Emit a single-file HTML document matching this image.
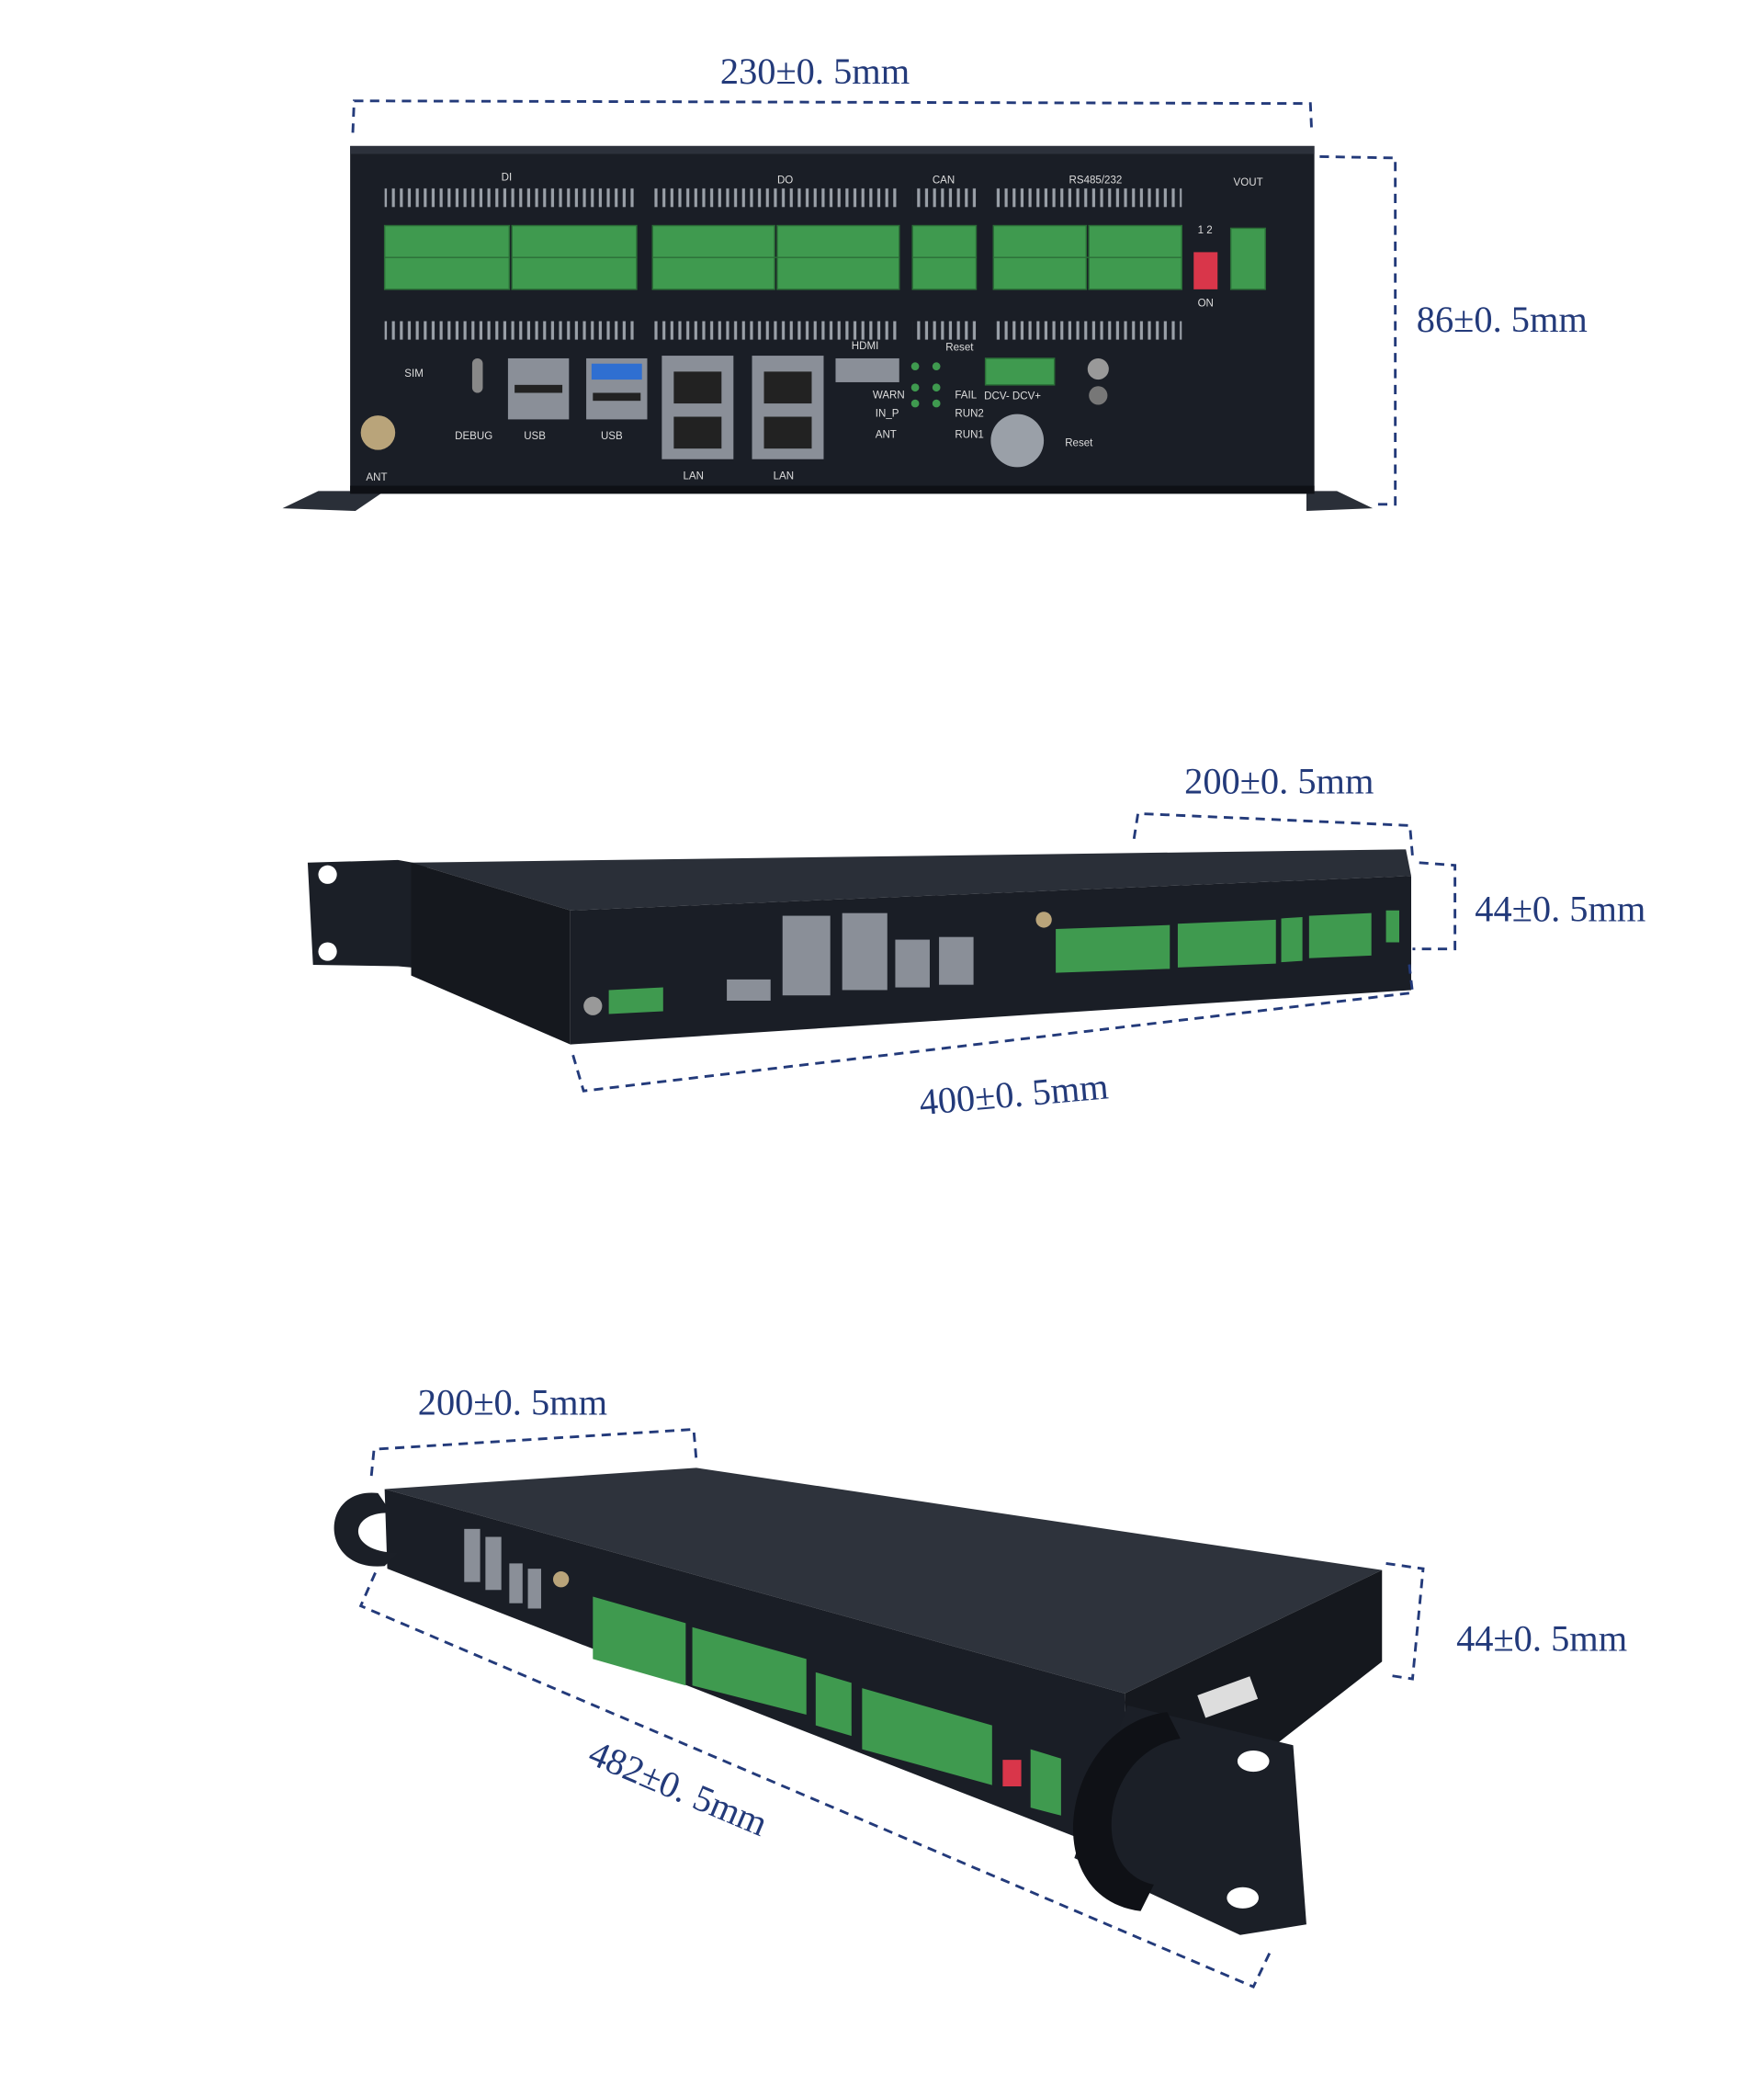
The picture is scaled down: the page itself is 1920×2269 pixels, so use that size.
<!DOCTYPE html>
<html><head><meta charset="utf-8"><style>
html,body{margin:0;padding:0;background:#fff;}
svg{display:block;}
.dim{font-family:"Liberation Serif","Noto Serif CJK SC",serif;fill:#233a7a;font-size:28px;}
.d{stroke:#233a7a;stroke-width:2;stroke-dasharray:7 5;fill:none;}
.lbl{font-family:"Liberation Sans",sans-serif;fill:#ddd;font-size:8px;}
</style></head><body>
<svg width="1920" height="2269" viewBox="0 0 1330 1571" preserveAspectRatio="none" xmlns="http://www.w3.org/2000/svg">
<defs>
<pattern id="pins" width="6" height="20" patternUnits="userSpaceOnUse"><rect x="1.5" y="2" width="2.2" height="14" fill="#9aa0a8"/></pattern>
</defs>
<rect width="1330" height="1571" fill="#fff"/>
<!-- TOP DEVICE -->
<polygon points="213,383 240,370 290,370 268,385" fill="#2a2f38"/>
<polygon points="1035,383 1008,370 985,370 985,385" fill="#2a2f38"/>
<rect x="264" y="110" width="727" height="262" fill="#1a1e26"/>
<rect x="264" y="110" width="727" height="6" fill="#2c313b"/>
<rect x="264" y="366" width="727" height="6" fill="#0e1015"/>
<g fill="url(#pins)">
<rect x="290" y="140" width="190" height="18"/><rect x="492" y="140" width="186" height="18"/>
<rect x="688" y="140" width="48" height="18"/><rect x="749" y="140" width="142" height="18"/>
<rect x="290" y="238" width="190" height="18"/><rect x="492" y="238" width="186" height="18"/>
<rect x="688" y="238" width="48" height="18"/><rect x="749" y="238" width="142" height="18"/>
</g>
<g fill="#3f9a4f" stroke="#2b6e37" stroke-width="1">
<rect x="290" y="170" width="94" height="48"/><rect x="386" y="170" width="94" height="48"/>
<rect x="492" y="170" width="92" height="48"/><rect x="586" y="170" width="92" height="48"/>
<rect x="688" y="170" width="48" height="48"/>
<rect x="749" y="170" width="70" height="48"/><rect x="821" y="170" width="70" height="48"/>
<rect x="928" y="172" width="26" height="46"/>
<rect x="743" y="270" width="52" height="20"/>
</g>
<g stroke="#2b6e37" stroke-width="1">
<line x1="290" y1="194" x2="384" y2="194"/><line x1="386" y1="194" x2="480" y2="194"/>
<line x1="492" y1="194" x2="678" y2="194"/><line x1="688" y1="194" x2="736" y2="194"/>
<line x1="749" y1="194" x2="891" y2="194"/>
</g>
<rect x="900" y="190" width="18" height="28" fill="#d9364a"/>
<g class="lbl">
<text x="378" y="136">DI</text><text x="586" y="138">DO</text><text x="703" y="138">CAN</text>
<text x="806" y="138">RS485/232</text><text x="930" y="140">VOUT</text>
<text x="305" y="284">SIM</text><text x="343" y="331">DEBUG</text><text x="395" y="331">USB</text><text x="453" y="331">USB</text>
<text x="515" y="361">LAN</text><text x="583" y="361">LAN</text><text x="642" y="263">HDMI</text>
<text x="713" y="264">Reset</text><text x="742" y="301">DCV- DCV+</text><text x="803" y="336">Reset</text>
<text x="276" y="362">ANT</text><text x="720" y="300">FAIL</text><text x="658" y="300">WARN</text>
<text x="660" y="314">IN_P</text><text x="660" y="330">ANT</text><text x="720" y="314">RUN2</text><text x="720" y="330">RUN1</text>
<text x="903" y="176">1 2</text><text x="903" y="231">ON</text>
</g>
<g fill="#3f9a4f"><circle cx="690" cy="292" r="3"/><circle cx="706" cy="292" r="3"/><circle cx="690" cy="304" r="3"/><circle cx="706" cy="304" r="3"/><circle cx="690" cy="276" r="3"/><circle cx="706" cy="276" r="3"/></g>
<g fill="#8a8f98">
<rect x="383" y="270" width="46" height="46"/><rect x="442" y="270" width="46" height="46"/>
<rect x="499" y="268" width="54" height="78"/><rect x="567" y="268" width="54" height="78"/>
<rect x="630" y="270" width="48" height="18"/>
</g>
<rect x="446" y="274" width="38" height="12" fill="#2f6fd1"/>
<g fill="#222">
<rect x="508" y="280" width="36" height="24"/><rect x="508" y="314" width="36" height="24"/>
<rect x="576" y="280" width="36" height="24"/><rect x="576" y="314" width="36" height="24"/>
<rect x="388" y="290" width="36" height="6"/><rect x="447" y="296" width="36" height="6"/>
</g>
<circle cx="285" cy="326" r="13" fill="#b9a47a"/>
<circle cx="767" cy="332" r="20" fill="#9aa0a8"/>
<circle cx="828" cy="278" r="8" fill="#999"/><circle cx="828" cy="298" r="7" fill="#777"/>
<rect x="356" y="270" width="8" height="26" rx="4" fill="#888"/>
<!-- top dims -->
<text class="dim" x="543" y="63">230±0. 5mm</text>
<polyline class="d" points="266,100 267,76 988,78 989,100"/>
<polyline class="d" points="995,118 1052,119 1052,380 1035,380"/>
<text class="dim" x="1068" y="250">86±0. 5mm</text>

<!-- MIDDLE DEVICE -->
<polygon points="232,650 300,648 322,652 322,730 300,728 236,727" fill="#1b1f27"/>
<circle cx="247" cy="659" r="7" fill="#fff"/><circle cx="247" cy="717" r="7" fill="#fff"/>
<polygon points="310,650 1060,640 1064,660 430,686" fill="#2a2f38"/>
<polygon points="310,650 430,686 430,787 310,735" fill="#15181e"/>
<polygon points="430,686 1064,660 1064,746 430,787" fill="#1a1e26"/>
<g fill="#3f9a4f">
<polygon points="796,700 882,697 882,730 796,733"/>
<polygon points="888,696 962,693 962,726 888,729"/>
<polygon points="966,692 982,691 982,724 966,725"/>
<polygon points="987,690 1034,688 1034,720 987,722"/>
<polygon points="1045,686 1055,686 1055,710 1045,710"/>
<polygon points="459,746 500,744 500,762 459,764"/>
</g>
<g fill="#8a8f98">
<rect x="590" y="690" width="36" height="60"/><rect x="635" y="688" width="34" height="58"/>
<rect x="675" y="708" width="26" height="36"/><rect x="708" y="706" width="26" height="36"/>
<rect x="548" y="738" width="33" height="16"/>
</g>
<circle cx="787" cy="693" r="6" fill="#b9a47a"/><circle cx="447" cy="758" r="7" fill="#999"/>
<text class="dim" x="893" y="598">200±0. 5mm</text>
<polyline class="d" points="855,632 858,613 1063,622 1065,645"/>
<polyline class="d" points="1070,650 1097,652 1097,715 1065,715"/>
<text class="dim" x="1112" y="694">44±0. 5mm</text>
<polyline class="d" points="432,795 440,822 1065,748 1062,722"/>
<text class="dim" x="0" y="0" transform="translate(694,840) rotate(-5)">400±0. 5mm</text>

<!-- BOTTOM DEVICE -->
<polygon points="290,1122 525,1106 1042,1183 848,1276" fill="#2e333c"/>
<polygon points="290,1122 848,1276 852,1400 292,1182" fill="#1a1e26"/>
<polygon points="848,1276 1042,1183 1042,1252 852,1400" fill="#15181e"/>
<path d="M285,1125 C240,1120 240,1185 290,1180 L300,1170 C260,1170 262,1138 295,1140 Z" fill="#1b1f27"/>
<polygon points="850,1285 975,1315 985,1450 935,1458 810,1400" fill="#1b1f27"/>
<path d="M880,1290 C800,1300 780,1430 860,1440 L870,1420 C820,1410 830,1320 890,1310 Z" fill="#0f1116"/>
<ellipse cx="945" cy="1327" rx="12" ry="8" fill="#fff"/><ellipse cx="937" cy="1430" rx="12" ry="8" fill="#fff"/>
<rect x="905" y="1270" width="42" height="18" fill="#ddd" transform="rotate(-20 925 1280)"/>
<g fill="#3f9a4f">
<polygon points="447,1203 517,1223 517,1270 447,1250"/>
<polygon points="522,1226 608,1250 608,1292 522,1270"/>
<polygon points="615,1260 642,1268 642,1308 615,1300"/>
<polygon points="650,1272 748,1300 748,1345 650,1318"/>
<polygon points="777,1318 800,1325 800,1368 777,1362"/>
</g>
<rect x="756" y="1326" width="14" height="20" fill="#d9364a"/>
<g fill="#8a8f98">
<rect x="350" y="1152" width="12" height="40"/><rect x="366" y="1158" width="12" height="40"/>
<rect x="384" y="1178" width="10" height="30"/><rect x="398" y="1182" width="10" height="30"/>
</g>
<circle cx="423" cy="1190" r="6" fill="#b9a47a"/>
<text class="dim" x="315" y="1066">200±0. 5mm</text>
<polyline class="d" points="280,1112 282,1092 523,1077 525,1100"/>
<polyline class="d" points="1045,1178 1073,1182 1065,1265 1045,1262"/>
<text class="dim" x="1098" y="1244">44±0. 5mm</text>
<polyline class="d" points="283,1185 272,1210 945,1497 958,1470"/>
<text class="dim" x="0" y="0" transform="translate(442,1328) rotate(23)">482±0. 5mm</text>
</svg>
</body></html>
